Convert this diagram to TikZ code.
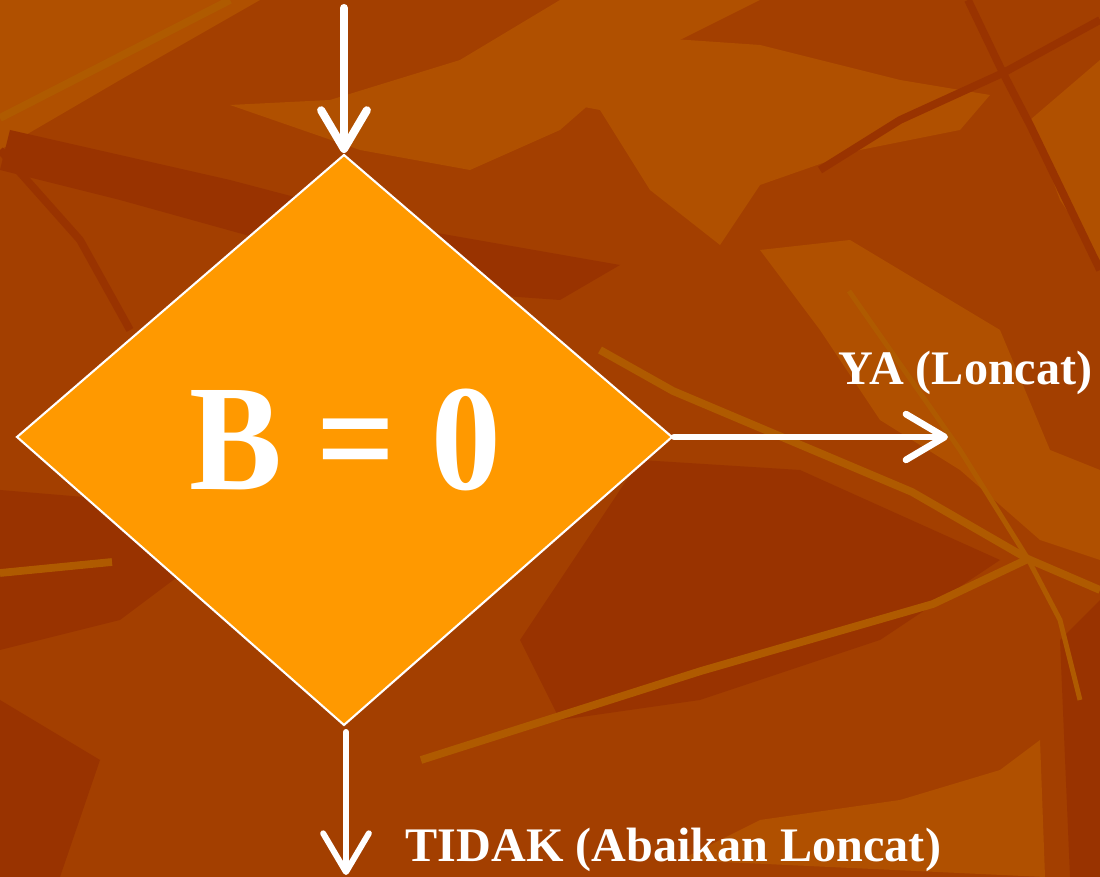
\documentclass[tikz,border=0pt]{standalone}
\usepackage{fontspec}
\setmainfont{Liberation Serif}
\usetikzlibrary{arrows.meta}
\definecolor{bgbase}{HTML}{A33F00}
\definecolor{bgdark}{HTML}{993300}
\definecolor{bglight}{HTML}{B05000}
\definecolor{bgvein}{HTML}{AF5A00}
\definecolor{diamfill}{HTML}{FF9900}
\tikzset{
  flowline/.style={draw=white, line cap=round},
  barb/.style={-{Straight Barb[length=11pt, width=13pt, round]}},
  label/.style={text=white, font=\bfseries\fontsize{13.7}{15}\selectfont, inner sep=0pt, anchor=base west},
  leaflight/.style={fill=bglight},
  leafdark/.style={fill=bgdark},
  vein/.style={draw=bgvein, line width=2.2pt, line join=round},
  darkvein/.style={draw=bgdark, line width=2.2pt, line join=round}
}
\begin{document}
\begin{tikzpicture}[x=0.01cm, y=-0.01cm]
\useasboundingbox (0,0) rectangle (1100,877);
% background foliage
\fill[bgbase] (0,0) rectangle (1100,877);
\fill[leaflight] (0,0) -- (260,0) -- (120,80) -- (0,150) -- cycle;
\fill[leaflight] (230,105) -- (330,100) -- (460,60) -- (560,0) -- (760,0) -- (640,60) -- (560,130) -- (470,170) -- (360,150) -- cycle;
\fill[leaflight] (585,33) -- (760,45) -- (900,80) -- (990,95) -- (960,130) -- (860,150) -- (760,185) -- (720,245) -- (650,190) -- (600,110) -- (520,95) -- cycle;
\fill[leaflight] (1030,120) -- (1100,60) -- (1100,260) -- (1060,200) -- cycle;
\fill[leafdark] (10,130) -- (230,180) -- (420,230) -- (620,265) -- (560,300) -- (420,290) -- (300,250) -- (120,200) -- (0,170) -- cycle;
\fill[leafdark] (0,490) -- (120,500) -- (200,560) -- (120,620) -- (0,650) -- cycle;
\fill[leaflight] (760,250) -- (850,240) -- (1000,330) -- (1050,450) -- (1100,470) -- (1100,560) -- (1040,540) -- (960,470) -- (880,420) -- (820,330) -- cycle;
\fill[leafdark] (640,460) -- (800,470) -- (1000,560) -- (880,640) -- (700,700) -- (560,720) -- (520,640) -- cycle;
\fill[leaflight] (680,860) -- (760,820) -- (900,800) -- (1000,770) -- (1040,740) -- (1045,877) -- cycle;
\fill[leafdark] (0,700) -- (100,760) -- (60,877) -- (0,877) -- cycle;
\fill[leafdark] (1060,640) -- (1100,600) -- (1100,877) -- (1070,877) -- cycle;
% veins
\draw[vein] (0,118) -- (230,0);
\draw[vein] (0,573) -- (112,562);
\draw[vein] (600,350) -- (673,391) -- (912,492) -- (1028,559) -- (1100,590);
\draw[vein, line width=1.4pt] (849,291) -- (960,450) -- (1028,559);
\draw[vein] (1028,559) -- (933,604) -- (701,671) -- (421,760);
\draw[vein, line width=1.4pt] (1028,559) -- (1060,620) -- (1080,700);
\draw[darkvein] (968,0) -- (1003,73) -- (1100,20);
\draw[darkvein] (1003,73) -- (1030,125) -- (1100,270);
\draw[darkvein] (1003,73) -- (900,120) -- (820,170);
\draw[darkvein] (0,150) -- (80,240) -- (130,330);
% decision node
\coordinate (dt) at (344,155);
\coordinate (dl) at (17,437);
\coordinate (dr) at (672,437);
\coordinate (db) at (344,725);
\filldraw[fill=diamfill, draw=white, line width=0.6pt, line join=miter] (dt) -- (dr) -- (db) -- (dl) -- cycle;
\node[text=white, font=\bfseries\fontsize{43}{48}\selectfont, inner sep=0pt, xscale=0.92] (cond) at (345,440) {B = 0};
% connector ends
\coordinate (in) at (344,8);
\coordinate (intip) at (344,153);
\coordinate (yesstart) at (674,437);
\coordinate (yestip) at (948,437);
\coordinate (nostart) at (346,732);
\coordinate (notip) at (346,875);
\draw[flowline, barb, line width=2.3pt] (in) -- (intip);
\draw[flowline, barb, line width=1.9pt] (yesstart) -- (yestip);
\draw[flowline, barb, line width=1.7pt] (nostart) -- (notip);
% branch labels
\node[label] (yes) at (838,385) {YA (Loncat)};
\node[label] (no) at (405,862) {TIDAK (Abaikan Loncat)};
\end{tikzpicture}
\end{document}
